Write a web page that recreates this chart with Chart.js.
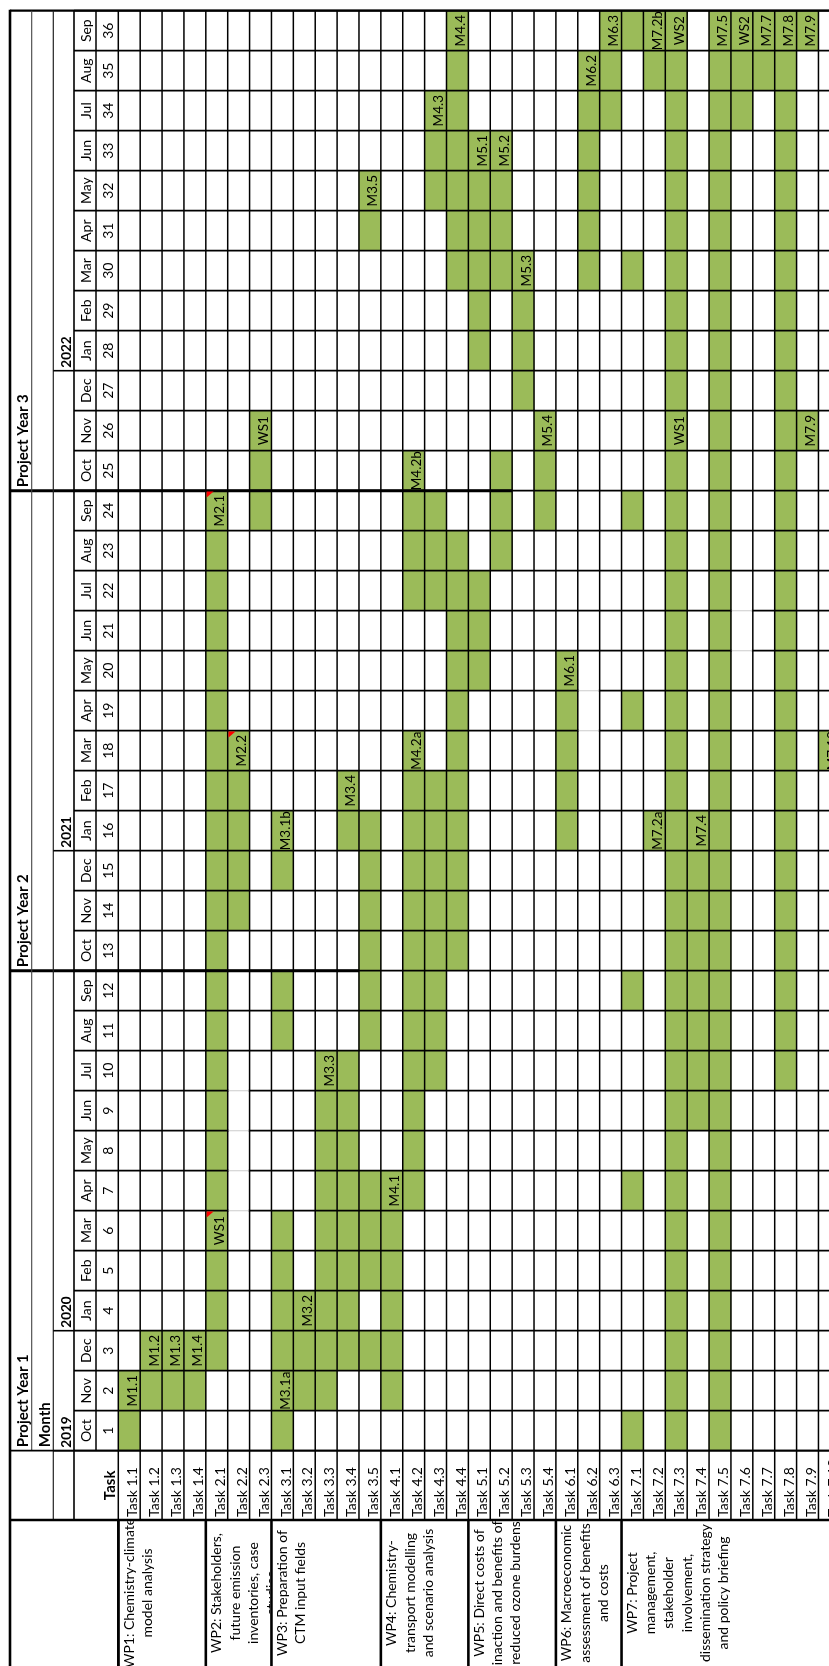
<!DOCTYPE html>
<html>
<head>
<meta charset="utf-8">
<title>Project Gantt chart</title>
<script src="https://cdn.jsdelivr.net/npm/chart.js@4/dist/chart.umd.min.js"></script>
<style>
  html, body { margin: 0; padding: 0; background: #ffffff; overflow: hidden; }
  #sheet { position: relative; width: 829px; height: 1666px; overflow: hidden; background: #ffffff; }
  #sheet canvas { position: absolute; left: 0; top: 0; }
</style>
</head>
<body>
<div id="sheet"><canvas id="gantt" width="848" height="1666" style="width:848px;height:1666px"></canvas></div>
<script>
// ---- Work plan data ----
const tasks = ['Task 1.1','Task 1.2','Task 1.3','Task 1.4',
  'Task 2.1','Task 2.2','Task 2.3',
  'Task 3.1','Task 3.2','Task 3.3','Task 3.4','Task 3.5',
  'Task 4.1','Task 4.2','Task 4.3','Task 4.4',
  'Task 5.1','Task 5.2','Task 5.3','Task 5.4',
  'Task 6.1','Task 6.2','Task 6.3',
  'Task 7.1','Task 7.2','Task 7.3','Task 7.4','Task 7.5','Task 7.6','Task 7.7','Task 7.8','Task 7.9','Task 7.10'];

const monthNumbers = [1,2,3,4,5,6,7,8,9,10,11,12,13,14,15,16,17,18,19,20,21,22,23,24,25,26,27,28,29,30,31,32,33,34,35,36];
const monthNames = ['Oct','Nov','Dec','Jan','Feb','Mar','Apr','May','Jun','Jul','Aug','Sep',
  'Oct','Nov','Dec','Jan','Feb','Mar','Apr','May','Jun','Jul','Aug','Sep',
  'Oct','Nov','Dec','Jan','Feb','Mar','Apr','May','Jun','Jul','Aug','Sep'];

// [label, first month, last month]
const calendarYears = [['2019',1,3],['2020',4,15],['2021',16,27],['2022',28,36]];
const projectYears = [['Project Year 1',1,12],['Project Year 2',13,24],['Project Year 3',25,36]];

// Active months of each task, as [first month, last month] periods (same order as tasks)
const activePeriods = [
  [[1,2]],
  [[2,3]],
  [[2,3]],
  [[2,3]],
  [[3,24]],
  [[14,18]],
  [[24,26]],
  [[1,6],[11,12],[15,16]],
  [[2,4]],
  [[2,10]],
  [[3,10],[16,17]],
  [[3,3],[5,7],[11,16],[31,32]],
  [[2,7]],
  [[7,18],[22,25]],
  [[10,17],[22,24],[32,34]],
  [[13,23],[30,36]],
  [[20,22],[28,33]],
  [[23,25],[30,33]],
  [[27,30]],
  [[24,26]],
  [[16,20]],
  [[30,35]],
  [[34,36]],
  [[1,1],[7,7],[12,12],[19,19],[24,24],[30,30],[36,36]],
  [[16,16],[35,36]],
  [[1,36]],
  [[9,16]],
  [[1,36]],
  [[34,36]],
  [[35,36]],
  [[10,36]],
  [[26,26],[36,36]],
  [[18,18]]
];

// Milestones and workshops: [task, month, label]
const milestones = [
  ['Task 1.1',2,'M1.1'],['Task 1.2',3,'M1.2'],['Task 1.3',3,'M1.3'],['Task 1.4',3,'M1.4'],
  ['Task 2.1',6,'WS1'],['Task 2.1',24,'M2.1'],['Task 2.2',18,'M2.2'],['Task 2.3',26,'WS1'],
  ['Task 3.1',2,'M3.1a'],['Task 3.1',16,'M3.1b'],['Task 3.2',4,'M3.2'],['Task 3.3',10,'M3.3'],
  ['Task 3.4',17,'M3.4'],['Task 3.5',32,'M3.5'],
  ['Task 4.1',7,'M4.1'],['Task 4.2',18,'M4.2a'],['Task 4.2',25,'M4.2b'],['Task 4.3',34,'M4.3'],['Task 4.4',36,'M4.4'],
  ['Task 5.1',33,'M5.1'],['Task 5.2',33,'M5.2'],['Task 5.3',30,'M5.3'],['Task 5.4',26,'M5.4'],
  ['Task 6.1',20,'M6.1'],['Task 6.2',35,'M6.2'],['Task 6.3',36,'M6.3'],
  ['Task 7.2',16,'M7.2a'],['Task 7.2',36,'M7.2b'],['Task 7.3',26,'WS1'],['Task 7.3',36,'WS2'],
  ['Task 7.4',16,'M7.4'],['Task 7.5',36,'M7.5'],['Task 7.6',36,'WS2'],['Task 7.7',36,'M7.7'],
  ['Task 7.8',36,'M7.8'],['Task 7.9',26,'M7.9'],['Task 7.9',36,'M7.9'],['Task 7.10',18,'M7.10']
];

// Cells carrying a comment marker: [task, month]
const commentCells = [['Task 2.1',6],['Task 2.1',24],['Task 2.2',18]];

// Work packages: first task, last task, wrapped title lines
const wpFirst = ['Task 1.1','Task 2.1','Task 3.1','Task 4.1','Task 5.1','Task 6.1','Task 7.1'];
const wpLast  = ['Task 1.4','Task 2.3','Task 3.5','Task 4.4','Task 5.4','Task 6.3','Task 7.10'];
const wpTitles = [
  ['WP1: Chemistry-climate','model analysis'],
  ['WP2: Stakeholders,','future emission','inventories, case','studies'],
  ['WP3: Preparation of','CTM input fields'],
  ['WP4: Chemistry-','transport modelling','and scenario analysis'],
  ['WP5: Direct costs of','inaction and benefits of','reduced ozone burdens'],
  ['WP6: Macroeconomic','assessment of benefits','and costs'],
  ['WP7: Project','management,','stakeholder','involvement,','dissemination strategy','and policy briefing']
];

// ---- Sheet styling ----
const GREEN = '#9BBB59';
const FONT = 'Lato, "Open Sans", sans-serif';
const HEADER_X = [10, 31.7, 53.3, 74, 96];   // left edges of the rotated header bands
const TASK_ROW_BOTTOM = 1520;                  // bottom of the task-label band
const WP_TEXT_CENTER = 1593;
// month boundaries drawn as plain light gridlines: [task, boundary value]
const lightRules = [['Task 2.2',6.5],['Task 2.2',7.5],['Task 2.2',8.5],['Task 2.2',9.5],
  ['Task 6.2',18.5],['Task 6.2',19.5],['Task 7.6',20.5],['Task 7.6',21.5]];

// Build one floating-bar dataset per period slot
const maxSlots = Math.max(...activePeriods.map(p => p.length));
const datasets = [];
for (let s = 0; s < maxSlots; s++) {
  datasets.push({
    label: 'period ' + (s + 1),
    data: activePeriods.map(p => p[s] ? [p[s][0] - 0.5, p[s][1] + 0.5] : null),
    backgroundColor: GREEN,
    borderWidth: 0,
    borderSkipped: false,
    barPercentage: 1,
    categoryPercentage: 1,
    grouped: false
  });
}

function rule(ctx, x1, y1, x2, y2, w, c) {
  ctx.beginPath();
  ctx.lineWidth = w;
  ctx.strokeStyle = c || '#000';
  ctx.moveTo(x1, y1);
  ctx.lineTo(x2, y2);
  ctx.stroke();
}

// text reading bottom-to-top
function upText(ctx, str, x, y, align, font) {
  ctx.save();
  ctx.translate(x, y);
  ctx.rotate(-Math.PI / 2);
  ctx.font = font;
  ctx.fillStyle = '#000';
  ctx.textAlign = align;
  ctx.textBaseline = 'alphabetic';
  ctx.fillText(str, 0, 0);
  ctx.restore();
}

const sheetPlugin = {
  id: 'sheet',
  afterDatasetsDraw(chart) {
    const ctx = chart.ctx;
    const ys = chart.scales.y;
    const a = chart.chartArea;
    const n = tasks.length;
    const cw = (a.right - a.left) / n;
    const colL = i => a.left + i * cw;
    const yAt = v => ys.getPixelForValue(v);
    const H = chart.height;

    ctx.save();

    // milestone labels inside the bars
    milestones.forEach(([t, m, lab]) => {
      const i = tasks.indexOf(t);
      upText(ctx, lab, colL(i + 1) - 3.5, yAt(m), 'center', '13.5px ' + FONT);
    });

    // horizontal month rules across names, numbers and task grid
    for (let k = 0; k <= 36; k++) {
      rule(ctx, HEADER_X[3], yAt(k + 0.5), a.right, yAt(k + 0.5), 1.8);
    }
    // heavier rules at project-year changes
    rule(ctx, HEADER_X[0], yAt(12.5), colL(11), yAt(12.5), 3);
    rule(ctx, HEADER_X[0], yAt(24.5), colL(18), yAt(24.5), 3);

    // light gridlines where the cell has no border
    lightRules.forEach(([t, v]) => {
      const i = tasks.indexOf(t);
      ctx.fillStyle = '#fff';
      ctx.fillRect(colL(i) + 1, yAt(v) - 2, cw - 2, 4);
      rule(ctx, colL(i), yAt(v), colL(i + 1), yAt(v), 1.2, '#d4d4d4');
    });

    // vertical task rules
    for (let i = 0; i <= n; i++) {
      rule(ctx, colL(i), a.top, colL(i), TASK_ROW_BOTTOM, 1.5);
    }
    // work-package cell borders
    rule(ctx, colL(0), TASK_ROW_BOTTOM, colL(0), H, 2.6);
    wpFirst.forEach(t => {
      const i = tasks.indexOf(t);
      rule(ctx, colL(i), TASK_ROW_BOTTOM, colL(i), H, 2.6);
    });

    // header frame
    rule(ctx, HEADER_X[0], a.top, a.right, a.top, 2.2);
    rule(ctx, HEADER_X[0], a.top - 1, HEADER_X[0], H, 2.6);
    rule(ctx, HEADER_X[1], a.top, HEADER_X[1], a.bottom, 1.1, '#444');
    rule(ctx, HEADER_X[2], a.top, HEADER_X[2], TASK_ROW_BOTTOM, 1.2, '#222');
    rule(ctx, HEADER_X[3], a.top, HEADER_X[3], TASK_ROW_BOTTOM, 1.6);
    rule(ctx, HEADER_X[4], a.top, HEADER_X[4], a.bottom, 1.5);
    rule(ctx, HEADER_X[0], a.bottom, a.right, a.bottom, 1.8);
    rule(ctx, HEADER_X[0], TASK_ROW_BOTTOM, a.right, TASK_ROW_BOTTOM, 2.6);
    calendarYears.forEach(([, f]) => rule(ctx, HEADER_X[2], yAt(f - 0.5), HEADER_X[3], yAt(f - 0.5), 1.6));

    // project years
    projectYears.forEach(([lab, f]) => {
      upText(ctx, lab, HEADER_X[1] - 4, yAt(f - 0.5) - 3.5, 'left', 'bold 15px ' + FONT);
    });
    upText(ctx, 'Month', HEADER_X[2] - 3.5, yAt(0.5) - 3.5, 'left', 'bold 15px ' + FONT);
    calendarYears.forEach(([lab, f]) => {
      upText(ctx, lab, HEADER_X[3] - 2.8, yAt(f - 0.5) - 3, 'left', 'bold 13.5px ' + FONT);
    });
    monthNumbers.forEach((m, k) => {
      upText(ctx, monthNames[k], HEADER_X[4] - 5.5, yAt(m), 'center', '14px ' + FONT);
      upText(ctx, String(m), a.left - 5, yAt(m), 'center', '14px ' + FONT);
    });

    // task label band
    upText(ctx, 'Task', a.left - 3.5, (a.bottom + TASK_ROW_BOTTOM) / 2, 'center', 'bold 15px ' + FONT);
    tasks.forEach((t, i) => {
      upText(ctx, t, colL(i + 1) - 2.8, TASK_ROW_BOTTOM - 3, 'left', '14px ' + FONT);
    });

    // work-package titles, clipped to their cells
    wpTitles.forEach((lines, w) => {
      const i0 = tasks.indexOf(wpFirst[w]);
      const i1 = tasks.indexOf(wpLast[w]);
      ctx.save();
      ctx.beginPath();
      ctx.rect(colL(i0) + 1.3, TASK_ROW_BOTTOM + 1.3, colL(i1 + 1) - colL(i0) - 2.6, H - TASK_ROW_BOTTOM);
      ctx.clip();
      lines.forEach((ln, j) => {
        upText(ctx, ln, colL(i0) + 15.5 + j * 18.2, WP_TEXT_CENTER, 'center', '14px ' + FONT);
      });
      ctx.restore();
    });

    // comment markers
    ctx.fillStyle = '#ff0000';
    commentCells.forEach(([t, m]) => {
      const i = tasks.indexOf(t);
      const x = colL(i) + 0.8, y = yAt(m + 0.5) + 0.9;
      ctx.beginPath();
      ctx.moveTo(x, y);
      ctx.lineTo(x + 7, y);
      ctx.lineTo(x, y + 6);
      ctx.closePath();
      ctx.fill();
    });

    ctx.restore();
  }
};

const canvas = document.getElementById('gantt');
const CW = 848, CH = 1666;
const gridLeft = 118.3, gridTop = 10.7, colWidth = 21.88, gridBottom = 1450.7;

new Chart(canvas, {
  type: 'bar',
  data: { labels: tasks, datasets: datasets },
  options: {
    responsive: false,
    animation: false,
    devicePixelRatio: 1,
    events: [],
    layout: {
      padding: {
        left: gridLeft,
        top: gridTop,
        right: CW - (gridLeft + colWidth * tasks.length),
        bottom: CH - gridBottom
      }
    },
    plugins: { legend: { display: false }, tooltip: { enabled: false }, title: { display: false } },
    scales: {
      x: { type: 'category', display: false, offset: true },
      y: { type: 'linear', display: false, min: 0.5, max: 36.5 }
    }
  },
  plugins: [sheetPlugin]
});
</script>
</body>
</html>
